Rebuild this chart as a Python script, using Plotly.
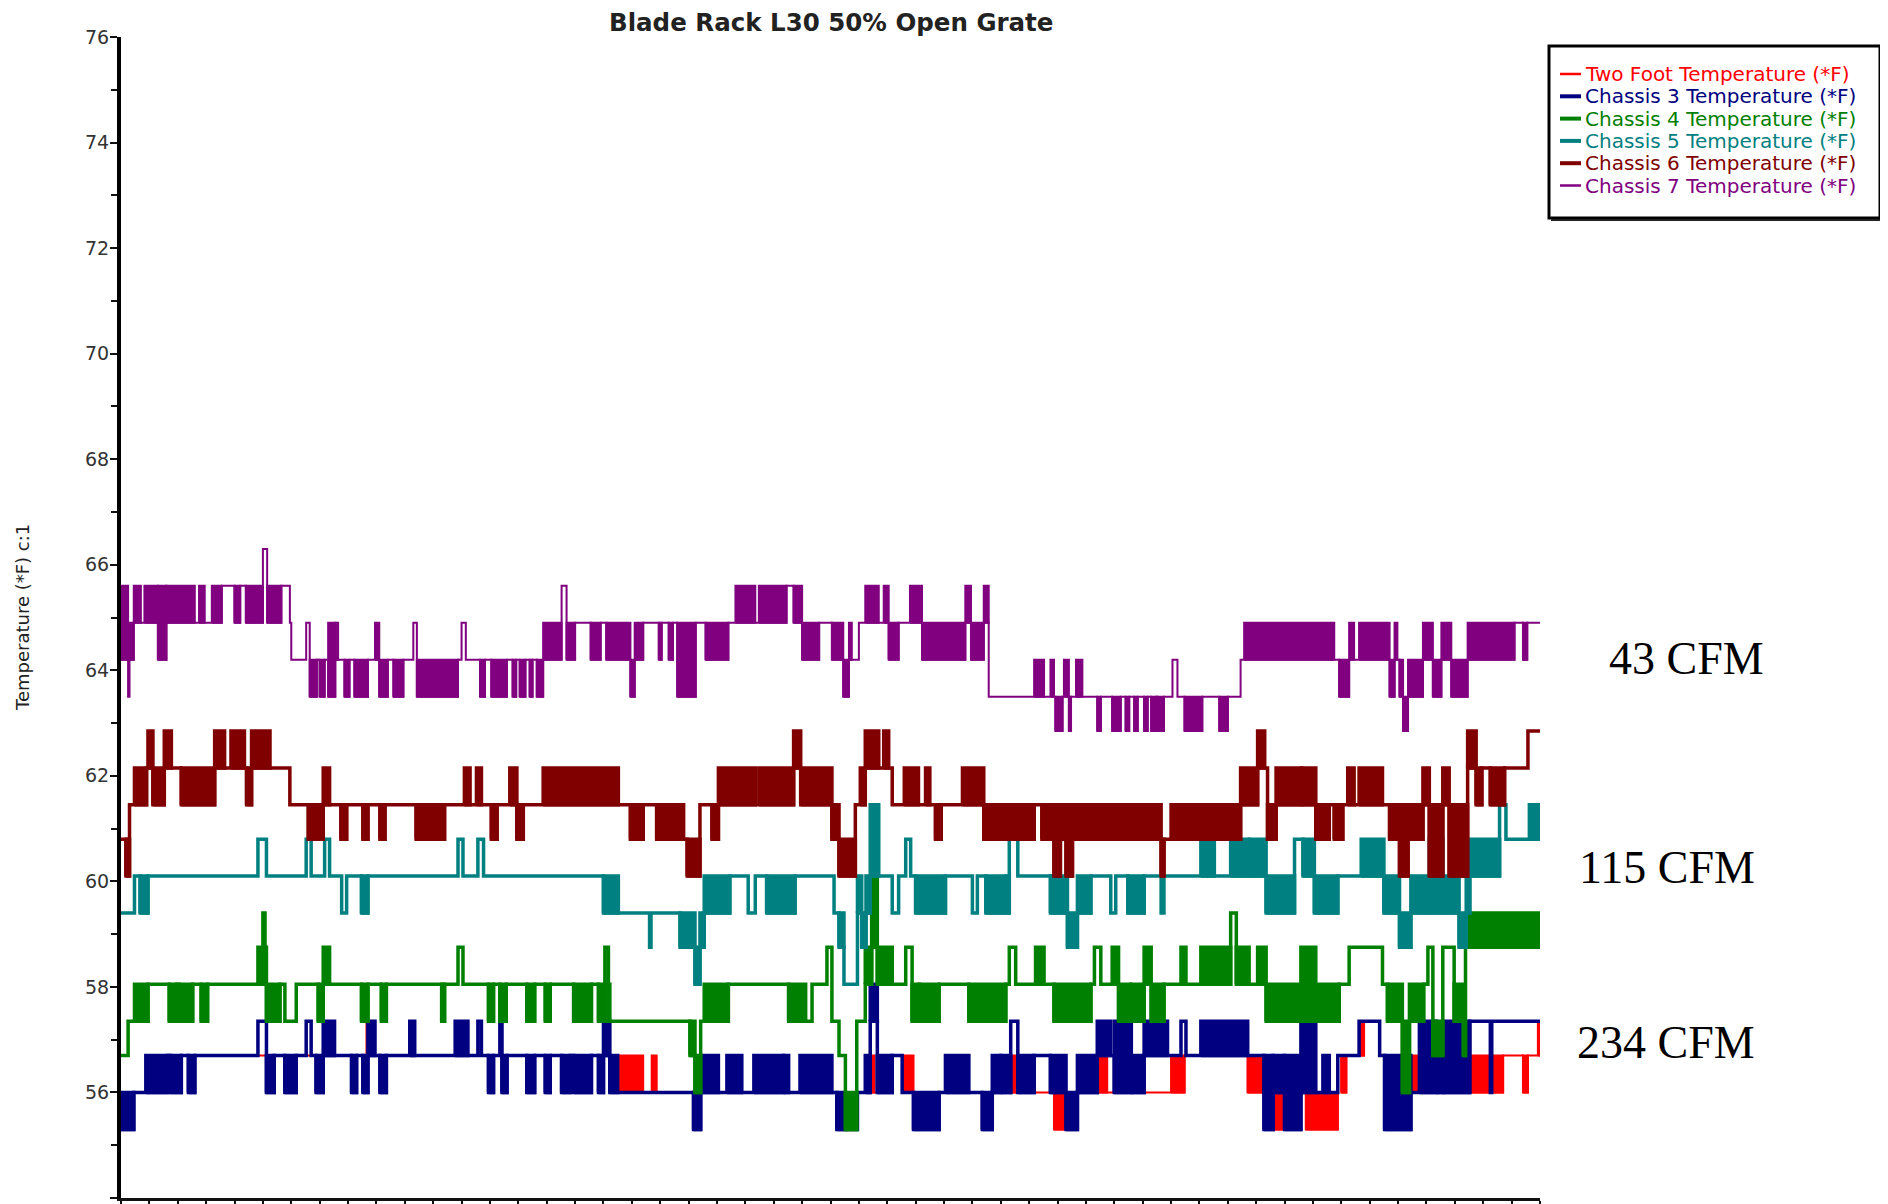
import plotly.graph_objects as go

# ---------------- data (x = elapsed time, 0..100 ; values in deg F) ----------------
# Each series: list of (segment_end_x, low_value, high_value).
# low == high -> steady reading; low < high -> reading toggling rapidly between the two values.

two_foot = [
    (0.9, 55.3, 56.0), (2.3, 56.0, 56.0), (2.6, 56.0, 56.7), (3.3, 56.0, 56.0),
    (11.55, 56.7, 56.7), (12.35, 56.0, 56.7), (17.3, 56.7, 56.7), (17.9, 56.7, 57.35),
    (31.85, 56.7, 56.7), (32.1, 56.0, 56.7), (34.0, 56.7, 56.7), (34.45, 56.7, 57.35),
    (34.6, 56.0, 56.0), (36.8, 56.0, 56.7), (37.4, 56.0, 56.0), (37.75, 56.0, 56.7),
    (40.35, 56.0, 56.0), (40.85, 55.3, 56.0), (44.7, 56.0, 56.0), (45.6, 56.0, 56.7),
    (48.0, 56.0, 56.0), (48.2, 56.0, 56.7), (50.45, 56.0, 56.0), (51.9, 55.3, 56.0),
    (52.6, 56.0, 56.0), (53.1, 56.0, 56.7), (54.0, 56.0, 56.0), (54.35, 56.0, 56.7),
    (55.05, 56.7, 56.7), (55.85, 56.0, 56.7), (57.65, 55.3, 56.0), (58.1, 56.0, 56.0),
    (60.7, 56.0, 56.0), (61.4, 55.3, 56.0), (63.0, 56.0, 56.7), (65.75, 56.0, 56.0),
    (67.4, 55.3, 56.0), (68.45, 56.0, 56.0), (69.5, 56.0, 56.7), (71.05, 56.0, 56.0),
    (71.65, 56.0, 56.7), (74.0, 56.0, 56.0), (74.95, 56.0, 56.7), (79.4, 56.7, 56.7),
    (80.55, 56.0, 56.7), (82.7, 55.3, 56.7), (83.5, 56.0, 56.7), (85.75, 55.3, 56.0),
    (86.0, 56.7, 56.7), (86.35, 56.0, 56.7), (87.25, 56.7, 56.7), (87.6, 56.7, 57.35),
    (88.7, 57.35, 57.35), (89.05, 56.7, 56.7), (90.9, 55.3, 56.7), (92.2, 56.0, 56.7),
    (93.15, 56.0, 56.7), (94.0, 56.0, 56.7), (95.05, 56.0, 57.35), (97.4, 56.0, 56.7),
    (98.8, 56.7, 56.7), (99.15, 56.0, 56.7), (99.85, 56.7, 56.7), (100.0, 56.7, 57.35),
]

chassis3 = [
    (0.9, 55.3, 56.0), (1.75, 56.0, 56.0), (3.3, 56.0, 56.7), (3.5, 56.7, 56.7),
    (4.25, 56.0, 56.7), (4.75, 56.7, 56.7), (5.2, 56.0, 56.7), (9.65, 56.7, 56.7),
    (10.25, 57.35, 57.35), (10.8, 56.0, 56.7), (11.55, 56.7, 56.7), (12.35, 56.0, 56.7),
    (13.05, 56.7, 56.7), (13.4, 57.35, 57.35), (13.75, 56.7, 56.7), (14.25, 56.0, 56.7),
    (15.05, 56.7, 57.35), (16.25, 56.7, 56.7), (16.6, 56.0, 56.7), (17.05, 56.7, 56.7),
    (17.4, 56.0, 56.7), (17.9, 56.7, 57.35), (18.25, 56.7, 56.7), (18.7, 56.0, 56.7),
    (20.35, 56.7, 56.7), (20.7, 56.7, 57.35), (23.55, 56.7, 56.7), (24.45, 56.7, 57.35),
    (25.15, 56.7, 56.7), (25.4, 57.35, 57.35), (25.9, 56.7, 56.7), (26.25, 56.0, 56.7),
    (26.7, 56.7, 56.7), (26.85, 57.35, 57.35), (27.2, 56.0, 56.7), (28.6, 56.7, 56.7),
    (29.15, 56.0, 56.7), (29.9, 56.7, 56.7), (30.25, 56.0, 56.7), (31.05, 56.7, 56.7),
    (31.65, 56.0, 56.7), (31.9, 56.7, 56.7), (33.15, 56.0, 56.7), (33.65, 56.7, 56.7),
    (34.0, 56.0, 56.7), (34.45, 56.7, 57.35), (35.0, 56.0, 56.7), (40.35, 56.0, 56.0),
    (40.85, 55.3, 56.0), (42.1, 56.0, 56.7), (42.7, 56.0, 56.0), (43.75, 56.0, 56.7),
    (44.6, 56.0, 56.0), (46.7, 56.0, 56.7), (47.05, 56.0, 56.7), (47.85, 56.0, 56.0),
    (50.1, 56.0, 56.7), (50.45, 56.0, 56.0), (51.05, 55.3, 56.0), (51.9, 55.3, 55.3),
    (52.45, 56.0, 56.0), (52.8, 56.0, 56.7), (53.3, 57.35, 58.05), (54.35, 56.0, 56.7),
    (55.05, 56.7, 56.7), (55.85, 56.0, 56.0), (57.65, 55.3, 56.0), (58.1, 56.0, 56.0),
    (59.75, 56.0, 56.7), (60.7, 56.0, 56.0), (61.4, 55.3, 56.0), (62.0, 56.0, 56.7),
    (62.7, 56.0, 56.7), (63.2, 57.35, 57.35), (64.35, 56.0, 56.7), (65.5, 56.7, 56.7),
    (66.6, 56.0, 56.7), (67.4, 55.3, 56.0), (68.8, 56.0, 56.7), (69.75, 56.7, 57.35),
    (70.0, 56.7, 56.7), (71.2, 56.0, 57.35), (72.1, 56.0, 56.7), (73.75, 56.7, 57.35),
    (74.7, 56.7, 56.7), (75.05, 57.35, 57.35), (76.1, 56.7, 56.7), (79.4, 56.7, 57.35),
    (80.55, 56.7, 56.7), (81.2, 55.3, 56.7), (82.0, 56.0, 56.7), (83.15, 55.3, 56.7),
    (84.2, 56.0, 57.35), (84.7, 56.0, 56.0), (85.15, 56.0, 56.7), (85.75, 56.0, 56.0),
    (87.25, 56.7, 56.7), (88.7, 57.35, 57.35), (89.05, 56.7, 56.7), (90.9, 55.3, 56.7),
    (91.5, 56.0, 56.0), (92.7, 56.0, 57.35), (93.15, 56.0, 56.7), (95.05, 56.0, 57.35),
    (96.5, 57.35, 57.35), (96.6, 56.0, 56.0), (100.0, 57.35, 57.35),
]

chassis4 = [
    (0.5, 56.7, 56.7), (0.95, 57.35, 57.35), (1.9, 57.35, 58.05), (3.4, 58.05, 58.05),
    (3.9, 57.35, 58.05), (4.1, 58.05, 58.05), (5.05, 57.35, 58.05), (5.65, 58.05, 58.05),
    (6.1, 57.35, 58.05), (9.65, 58.05, 58.05), (10.0, 58.05, 58.75), (10.15, 59.4, 59.4),
    (10.25, 58.05, 58.75), (11.2, 57.35, 58.05), (11.55, 58.05, 58.05), (12.35, 57.35, 57.35),
    (13.9, 58.05, 58.05), (14.25, 57.35, 58.05), (14.7, 58.05, 58.75), (16.95, 58.05, 58.05),
    (17.4, 57.35, 58.05), (18.35, 58.05, 58.05), (18.7, 57.35, 58.05), (22.6, 58.05, 58.05),
    (22.8, 57.35, 58.05), (23.75, 58.05, 58.05), (24.1, 58.75, 58.75), (25.9, 58.05, 58.05),
    (26.25, 57.35, 58.05), (26.7, 58.05, 58.05), (27.15, 57.35, 58.05), (28.6, 58.05, 58.05),
    (29.15, 57.35, 58.05), (29.9, 58.05, 58.05), (30.25, 57.35, 58.05), (31.9, 58.05, 58.05),
    (33.15, 57.35, 58.05), (33.65, 58.05, 58.05), (34.1, 57.35, 58.05), (34.35, 58.75, 58.75),
    (34.45, 57.35, 58.05), (40.1, 57.35, 57.35), (40.45, 56.7, 57.35), (40.85, 56.0, 56.7),
    (41.1, 57.35, 57.35), (42.8, 57.35, 58.05), (47.05, 58.05, 58.05), (48.25, 57.35, 58.05),
    (48.7, 57.35, 57.35), (49.75, 58.05, 58.05), (50.1, 58.75, 58.75), (50.6, 57.35, 57.35),
    (51.05, 56.7, 56.7), (51.85, 55.3, 56.0), (52.45, 57.35, 57.35), (52.9, 58.05, 58.75),
    (53.3, 58.75, 60.1), (54.35, 58.05, 58.75), (55.3, 58.05, 58.05), (55.75, 58.75, 58.75),
    (56.25, 57.35, 58.05), (57.65, 57.35, 58.05), (59.75, 58.05, 58.05), (62.35, 57.35, 58.05),
    (62.6, 58.05, 58.05), (63.05, 58.75, 58.75), (64.45, 58.05, 58.05), (65.05, 58.05, 58.75),
    (65.75, 58.05, 58.05), (68.35, 57.35, 58.05), (68.6, 58.05, 58.05), (69.05, 58.75, 58.75),
    (69.85, 58.05, 58.05), (70.3, 58.05, 58.75), (71.15, 57.35, 58.05), (72.1, 57.35, 58.05),
    (72.6, 58.05, 58.75), (73.5, 57.35, 58.05), (74.7, 58.05, 58.05), (75.05, 58.05, 58.75),
    (76.1, 58.05, 58.05), (78.2, 58.05, 58.75), (78.6, 59.4, 59.4), (79.5, 58.05, 58.75),
    (80.1, 58.05, 58.05), (80.7, 58.05, 58.75), (83.15, 57.35, 58.05), (84.2, 57.35, 58.75),
    (85.85, 57.35, 58.05), (86.55, 58.05, 58.05), (88.9, 58.75, 58.75), (89.25, 58.05, 58.05),
    (90.3, 57.35, 58.05), (90.8, 56.0, 57.35), (91.8, 57.35, 58.05), (92.1, 58.05, 58.05),
    (92.45, 58.75, 58.75), (93.15, 56.7, 57.35), (93.95, 58.75, 58.75), (94.6, 57.35, 58.05),
    (94.75, 56.7, 57.35), (95.05, 58.75, 58.75), (100.0, 58.75, 59.4),
]

chassis5 = [
    (0.95, 59.4, 59.4), (1.35, 60.1, 60.1), (1.9, 59.4, 60.1), (9.65, 60.1, 60.1),
    (10.25, 60.8, 60.8), (13.05, 60.1, 60.1), (13.4, 60.8, 60.8), (14.35, 60.1, 60.1),
    (14.7, 60.8, 60.8), (15.55, 60.1, 60.1), (15.9, 59.4, 59.4), (16.95, 60.1, 60.1),
    (17.4, 59.4, 60.1), (23.75, 60.1, 60.1), (24.1, 60.8, 60.8), (25.15, 60.1, 60.1),
    (25.55, 60.8, 60.8), (34.0, 60.1, 60.1), (35.05, 59.4, 60.1), (37.25, 59.4, 59.4),
    (37.35, 58.75, 58.75), (39.4, 59.4, 59.4), (40.45, 58.75, 59.4), (40.8, 58.05, 58.75),
    (41.1, 58.75, 59.4), (42.9, 59.4, 60.1), (44.2, 60.1, 60.1), (44.7, 59.4, 59.4),
    (45.5, 60.1, 60.1), (47.5, 59.4, 60.1), (50.25, 60.1, 60.1), (50.6, 59.4, 59.4),
    (50.95, 58.75, 59.4), (51.9, 58.05, 58.05), (52.2, 59.4, 60.1), (52.5, 58.75, 59.4),
    (52.8, 59.4, 60.1), (53.4, 60.1, 61.45), (54.35, 60.1, 60.1), (54.8, 59.4, 59.4),
    (55.3, 60.1, 60.1), (55.65, 60.8, 60.8), (56.0, 60.1, 60.1), (58.1, 59.4, 60.1),
    (60.0, 60.1, 60.1), (60.35, 59.4, 59.4), (60.95, 60.1, 60.1), (62.35, 59.4, 60.1),
    (62.6, 59.4, 60.1), (63.2, 60.8, 60.8), (65.5, 60.1, 60.1), (66.7, 59.4, 60.1),
    (67.4, 58.75, 59.4), (68.35, 59.4, 60.1), (69.75, 60.1, 60.1), (70.1, 59.4, 59.4),
    (70.95, 60.1, 60.1), (72.1, 59.4, 60.1), (73.3, 60.1, 60.1), (73.5, 59.4, 59.4),
    (76.1, 60.1, 60.1), (77.05, 60.1, 60.8), (78.2, 60.1, 60.1), (79.5, 60.1, 60.8),
    (80.7, 60.1, 60.8), (82.7, 59.4, 60.1), (83.3, 60.8, 60.8), (84.1, 60.1, 60.8),
    (85.75, 59.4, 60.1), (87.4, 60.1, 60.1), (89.0, 60.1, 60.8), (90.1, 59.4, 60.1),
    (90.9, 58.75, 59.4), (92.2, 59.4, 60.1), (93.15, 59.4, 60.8), (94.3, 59.4, 60.1),
    (94.8, 58.75, 59.4), (95.05, 59.4, 60.1), (97.15, 60.1, 60.8), (97.6, 61.45, 61.45),
    (99.25, 60.8, 60.8), (100.0, 60.8, 61.45),
]

chassis6 = [
    (0.35, 60.8, 60.8), (0.6, 60.1, 60.8), (0.95, 61.45, 61.45), (1.8, 61.45, 62.15),
    (1.9, 62.15, 62.15), (2.25, 62.15, 62.85), (3.05, 61.45, 62.15), (3.55, 62.15, 62.85),
    (4.25, 62.15, 62.15), (6.6, 61.45, 62.15), (7.3, 62.15, 62.85), (7.75, 62.15, 62.15),
    (8.7, 62.15, 62.85), (8.85, 62.15, 62.15), (9.2, 61.45, 62.15), (10.5, 62.15, 62.85),
    (11.9, 62.15, 62.15), (13.2, 61.45, 61.45), (14.25, 60.8, 61.45), (14.7, 61.45, 62.15),
    (15.5, 61.45, 61.45), (15.9, 60.8, 61.45), (17.05, 61.45, 61.45), (17.4, 60.8, 61.45),
    (18.25, 61.45, 61.45), (18.6, 60.8, 61.45), (20.8, 61.45, 61.45), (22.1, 60.8, 61.45),
    (22.25, 61.45, 61.45), (22.8, 60.8, 61.45), (24.2, 61.45, 61.45), (24.6, 61.45, 62.15),
    (25.05, 61.45, 61.45), (25.4, 61.45, 62.15), (26.1, 61.45, 61.45), (26.5, 60.8, 61.45),
    (27.4, 61.45, 61.45), (27.9, 61.45, 62.15), (28.35, 60.8, 61.45), (29.75, 61.45, 61.45),
    (35.05, 61.45, 62.15), (35.9, 61.45, 61.45), (36.8, 60.8, 61.45), (37.75, 61.45, 61.45),
    (39.65, 60.8, 61.45), (39.9, 60.8, 60.8), (40.8, 60.1, 60.8), (41.2, 61.45, 61.45),
    (41.65, 61.45, 61.45), (42.1, 60.8, 61.45), (44.7, 61.45, 62.15), (44.95, 61.45, 61.45),
    (47.4, 61.45, 62.15), (47.9, 62.15, 62.85), (50.1, 61.45, 62.15), (50.6, 60.8, 61.45),
    (51.75, 60.1, 60.8), (52.1, 61.45, 61.45), (52.45, 61.45, 62.15), (53.4, 62.15, 62.85),
    (53.75, 62.15, 62.15), (54.1, 62.15, 62.85), (54.35, 62.15, 62.15), (55.2, 61.45, 61.45),
    (56.2, 61.45, 62.15), (56.7, 61.45, 61.45), (57.0, 61.45, 62.15), (57.4, 61.45, 61.45),
    (57.8, 60.8, 61.45), (59.3, 61.45, 61.45), (60.8, 61.45, 62.15), (61.9, 60.8, 61.45),
    (62.0, 61.45, 61.45), (64.35, 60.8, 61.45), (64.9, 61.45, 61.45), (65.75, 60.8, 61.45),
    (66.2, 60.1, 61.45), (66.6, 60.8, 61.45), (67.05, 60.1, 61.45), (73.3, 60.8, 61.45),
    (73.5, 60.1, 60.8), (74.0, 60.8, 60.8), (78.9, 60.8, 61.45), (80.1, 61.45, 62.15),
    (80.6, 62.15, 62.85), (80.8, 62.15, 62.15), (81.4, 60.8, 61.45), (83.2, 61.45, 62.15),
    (84.2, 61.45, 62.15), (85.15, 60.8, 61.45), (85.5, 61.45, 61.45), (86.1, 60.8, 61.45),
    (86.45, 61.45, 61.45), (86.9, 61.45, 62.15), (87.25, 61.45, 61.45), (88.9, 61.45, 62.15),
    (89.4, 61.45, 61.45), (90.1, 60.8, 61.45), (90.7, 60.1, 61.45), (91.75, 60.8, 61.45),
    (92.2, 61.45, 62.15), (93.15, 60.1, 61.45), (93.6, 61.45, 62.15), (94.9, 60.1, 61.45),
    (95.5, 62.15, 62.85), (95.9, 61.45, 62.15), (96.5, 62.15, 62.15), (97.5, 61.45, 62.15),
    (99.15, 62.15, 62.15), (100.0, 62.85, 62.85),
]

chassis7 = [
    (0.5, 64.2, 65.6), (0.6, 63.5, 63.5), (0.9, 64.2, 64.9), (1.4, 64.9, 65.6),
    (1.65, 64.9, 64.9), (2.6, 64.9, 65.6), (3.2, 64.2, 65.6), (5.2, 64.9, 65.6),
    (5.5, 64.9, 64.9), (5.9, 64.9, 65.6), (6.4, 64.9, 64.9), (7.1, 64.9, 65.6),
    (8.0, 65.6, 65.6), (8.4, 64.9, 65.6), (8.8, 65.6, 65.6), (10.0, 64.9, 65.6),
    (10.3, 66.3, 66.3), (11.3, 64.9, 65.6), (11.9, 65.6, 65.6), (12.0, 64.9, 64.9),
    (13.05, 64.2, 64.2), (13.3, 64.9, 64.9), (13.8, 63.5, 64.2), (14.0, 64.2, 64.2),
    (14.35, 63.5, 64.2), (14.6, 64.2, 64.2), (15.1, 63.5, 64.9), (15.3, 64.2, 64.9),
    (15.75, 64.2, 64.2), (16.1, 63.5, 64.2), (16.45, 64.2, 64.2), (17.4, 63.5, 64.2),
    (17.9, 64.2, 64.2), (18.2, 64.2, 64.9), (18.8, 63.5, 64.2), (19.2, 64.2, 64.2),
    (19.9, 63.5, 64.2), (20.6, 64.2, 64.2), (20.85, 64.9, 64.9), (23.75, 63.5, 64.2),
    (24.0, 64.2, 64.2), (24.3, 64.9, 64.9), (25.3, 64.2, 64.2), (25.65, 63.5, 64.2),
    (26.1, 64.2, 64.2), (27.2, 63.5, 64.2), (27.6, 64.2, 64.2), (27.85, 63.5, 64.2),
    (28.1, 64.2, 64.2), (28.5, 63.5, 64.2), (28.8, 64.2, 64.2), (29.0, 63.5, 64.2),
    (29.3, 64.2, 64.2), (29.75, 63.5, 64.2), (31.05, 64.2, 64.9), (31.4, 65.6, 65.6),
    (32.0, 64.2, 64.9), (33.1, 64.9, 64.9), (33.8, 64.2, 64.9), (34.2, 64.9, 64.9),
    (35.9, 64.2, 64.9), (36.2, 63.5, 64.2), (36.8, 64.2, 64.9), (37.9, 64.9, 64.9),
    (38.1, 64.2, 64.9), (38.6, 64.9, 64.9), (38.9, 64.2, 64.9), (39.2, 64.9, 64.9),
    (40.5, 63.5, 64.9), (41.2, 64.9, 64.9), (42.8, 64.2, 64.9), (43.3, 64.9, 64.9),
    (44.7, 64.9, 65.6), (44.95, 64.9, 64.9), (46.9, 64.9, 65.6), (47.4, 65.6, 65.6),
    (48.0, 64.9, 65.6), (49.2, 64.2, 64.9), (50.1, 64.9, 64.9), (50.9, 64.2, 64.9),
    (51.3, 63.5, 64.2), (51.5, 64.2, 64.9), (52.0, 64.2, 64.2), (52.45, 64.9, 64.9),
    (53.4, 64.9, 65.6), (53.75, 64.9, 64.9), (54.1, 64.9, 65.6), (54.8, 64.2, 64.9),
    (55.6, 64.9, 64.9), (56.45, 64.9, 65.6), (59.5, 64.2, 64.9), (59.9, 64.9, 65.6),
    (60.8, 64.2, 64.9), (61.15, 64.9, 65.6), (64.35, 63.5, 63.5), (65.05, 63.5, 64.2),
    (65.5, 63.5, 63.5), (65.75, 63.5, 64.2), (65.85, 63.5, 63.5), (66.35, 62.85, 63.5),
    (66.45, 63.5, 63.5), (66.8, 63.5, 64.2), (66.95, 62.85, 63.5), (67.3, 63.5, 63.5),
    (67.75, 63.5, 64.2), (68.8, 63.5, 63.5), (69.05, 62.85, 63.5), (69.85, 63.5, 63.5),
    (70.45, 62.85, 63.5), (70.8, 63.5, 63.5), (71.05, 62.85, 63.5), (71.4, 63.5, 63.5),
    (71.65, 62.85, 63.5), (72.1, 63.5, 63.5), (72.35, 62.85, 63.5), (72.6, 63.5, 63.5),
    (72.95, 62.85, 63.5), (73.05, 63.5, 63.5), (73.5, 62.85, 63.5), (74.1, 63.5, 63.5),
    (74.45, 64.2, 64.2), (74.95, 63.5, 63.5), (76.2, 62.85, 63.5), (77.4, 63.5, 63.5),
    (78.0, 62.85, 63.5), (78.9, 63.5, 63.5), (79.15, 64.2, 64.2), (85.5, 64.2, 64.9),
    (85.85, 64.2, 64.2), (86.55, 63.5, 64.2), (86.9, 64.2, 64.9), (87.25, 64.2, 64.2),
    (89.4, 64.2, 64.9), (89.75, 63.5, 64.2), (89.95, 64.2, 64.9), (90.1, 64.2, 64.2),
    (90.35, 63.5, 64.2), (90.7, 62.85, 63.5), (91.75, 63.5, 64.2), (92.45, 64.2, 64.9),
    (93.05, 63.5, 64.2), (93.75, 64.2, 64.9), (94.9, 63.5, 64.2), (98.2, 64.2, 64.9),
    (98.8, 64.9, 64.9), (99.1, 64.2, 64.9), (100.0, 64.9, 64.9),
]

series_names = [
    "Two Foot Temperature (*F)",
    "Chassis 3 Temperature (*F)",
    "Chassis 4 Temperature (*F)",
    "Chassis 5 Temperature (*F)",
    "Chassis 6 Temperature (*F)",
    "Chassis 7 Temperature (*F)",
]
series_data = [two_foot, chassis3, chassis4, chassis5, chassis6, chassis7]
series_colors = ["#FF0000", "#000080", "#008000", "#008080", "#800000", "#800080"]
series_widths = [2, 3.5, 3.5, 3.5, 3.5, 2]

y_ticks = [54, 56, 58, 60, 62, 64, 66, 68, 70, 72, 74, 76]
cfm_labels = ["43 CFM", "115 CFM", "234 CFM"]
cfm_y = [64.22, 60.27, 56.94]

# ---------------- figure ----------------
# The page body has an 8px default margin, so the figure is offset by 8px.
OFF = 8
W, H = 1888 - OFF, 1204 - OFF
L_PAGE, R_PAGE, T_PAGE, B_PAGE = 121, 1540, 37, 1198   # plot area in page pixels
L, T = L_PAGE - OFF, T_PAGE - OFF
R, B = W - (R_PAGE - OFF), H - (B_PAGE - OFF)
PW, PH = R_PAGE - L_PAGE, B_PAGE - T_PAGE

def px_x(p):   # page pixel -> paper x
    return (p - L_PAGE) / PW

def px_y(p):   # page pixel -> paper y
    return 1 - (p - T_PAGE) / PH

def build(segs):
    xs, ys, bx, by = [], [], [], []
    start = 0.0
    for end, lo, hi in segs:
        xs += [start, end]
        ys += [lo, lo]
        if hi > lo:
            bx += [start, end, end, start, start, None]
            by += [lo, lo, hi, hi, lo, None]
        start = end
    return xs, ys, bx, by

fig = go.Figure()
for name, segs, col, w in zip(series_names, series_data, series_colors, series_widths):
    xs, ys, bx, by = build(segs)
    fig.add_trace(go.Scatter(
        x=bx, y=by, mode="lines", fill="toself", fillcolor=col,
        line=dict(color=col, width=w), showlegend=False, hoverinfo="skip",
        connectgaps=False))
    fig.add_trace(go.Scatter(
        x=xs, y=ys, mode="lines", line=dict(color=col, width=w),
        name=name, showlegend=False))

font_main = "DejaVu Sans, Liberation Sans, Arial"

fig.update_layout(
    width=W, height=H,
    margin=dict(l=L, r=R, t=T, b=B, pad=0, autoexpand=False),
    paper_bgcolor="white", plot_bgcolor="white",
    showlegend=False,
    xaxis=dict(range=[0, 100], showgrid=False, zeroline=False, showline=True,
               linecolor="#111", linewidth=3, ticks="outside", ticklen=10, tickwidth=2,
               tickcolor="#111", dtick=2, tick0=0, showticklabels=False, fixedrange=True),
    yaxis=dict(range=[54, 76], showgrid=False, zeroline=False, showline=True,
               linecolor="#000", linewidth=4, ticks="outside", ticklen=7, tickwidth=2,
               tickcolor="#111", tickvals=y_ticks, ticklabelstandoff=-3,
               tickfont=dict(family=font_main, size=19, color="#333"),
               minor=dict(dtick=1, tick0=54, ticks="outside", ticklen=6, tickwidth=2,
                          tickcolor="#111", showgrid=False)),
)

# title
fig.add_annotation(text="<b>Blade Rack L30 50% Open Grate</b>", xref="paper", yref="paper",
                   x=px_x(831), y=px_y(22), xanchor="center", yanchor="middle",
                   showarrow=False, font=dict(family=font_main, size=24.5, color="#222"))

# y-axis title
fig.add_annotation(text="Temperature (*F) c:1", xref="paper", yref="paper",
                   x=px_x(22), y=px_y(618), xanchor="center", yanchor="middle",
                   textangle=-90, showarrow=False,
                   font=dict(family=font_main, size=18, color="#222"))

# legend box
fig.add_shape(type="rect", xref="paper", yref="paper",
              x0=px_x(1549), x1=px_x(1880), y0=px_y(218), y1=px_y(46),
              line=dict(color="#000", width=3), fillcolor="rgba(0,0,0,0)")
fig.add_shape(type="line", xref="paper", yref="paper",
              x0=px_x(1882), x1=px_x(1882), y0=px_y(220), y1=px_y(48),
              line=dict(color="#222", width=2))
fig.add_shape(type="line", xref="paper", yref="paper",
              x0=px_x(1551), x1=px_x(1882), y0=px_y(220), y1=px_y(220),
              line=dict(color="#222", width=2))

# legend entries
for i, (name, col, w) in enumerate(zip(series_names, series_colors, series_widths)):
    yc = 74 + 22.3 * i
    fig.add_shape(type="line", xref="paper", yref="paper",
                  x0=px_x(1560), x1=px_x(1581), y0=px_y(yc), y1=px_y(yc),
                  line=dict(color=col, width=w + 0.5))
    fig.add_annotation(text=name, xref="paper", yref="paper",
                       x=px_x(1583), y=px_y(yc), xanchor="left", yanchor="middle",
                       showarrow=False,
                       font=dict(family=font_main, size=20, color=col))

# CFM labels
for txt, yv, xl in zip(cfm_labels, cfm_y, [1607, 1577, 1575]):
    fig.add_annotation(text=txt, xref="paper", yref="y", x=px_x(xl), y=yv,
                       xanchor="left", yanchor="middle", showarrow=False,
                       font=dict(family="Liberation Serif, Times New Roman, serif",
                                 size=46, color="#000"))

fig.write_html("out.html")
